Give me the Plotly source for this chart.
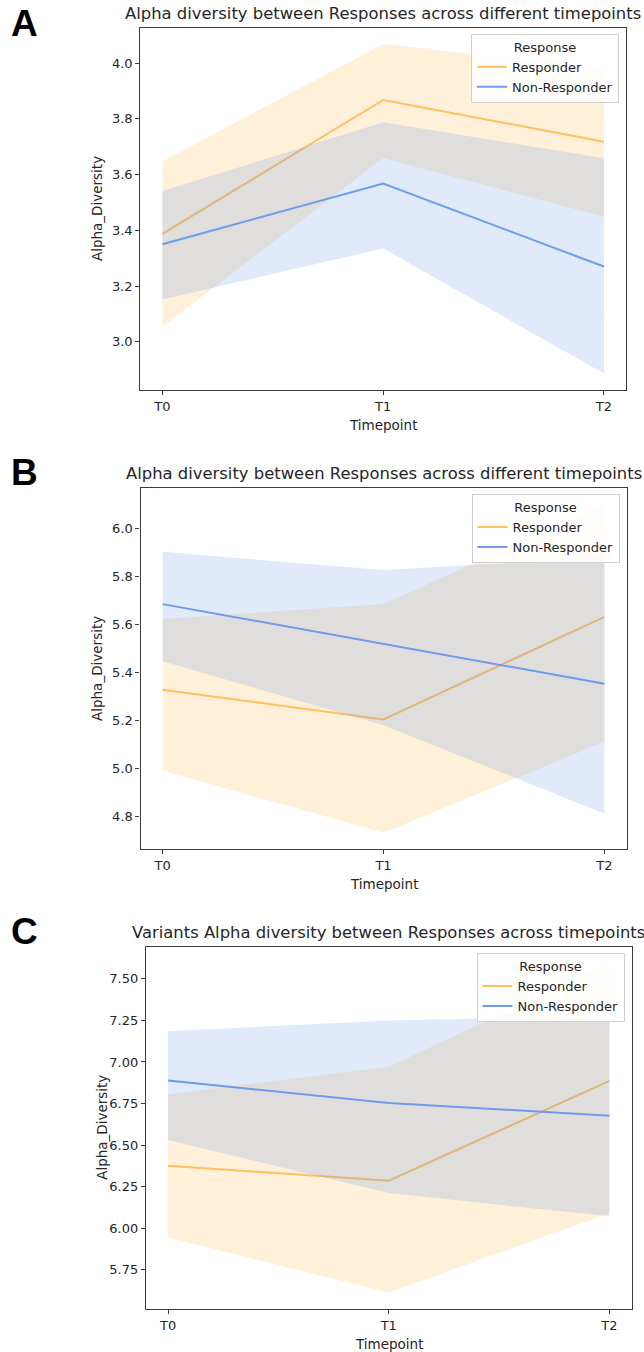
import plotly.graph_objects as go

W, H = 644, 1352

timepoints = ["T0", "T1", "T2"]
groups = ["Responder", "Non-Responder"]

# Panel A: alpha diversity (mean with 95% CI band)
a_resp_mean = [3.387, 3.868, 3.718]
a_resp_low = [3.054, 3.659, 3.449]
a_resp_high = [3.647, 4.069, 3.982]
a_nonresp_mean = [3.350, 3.568, 3.270]
a_nonresp_low = [3.152, 3.335, 2.886]
a_nonresp_high = [3.541, 3.788, 3.659]
a_yticks = [3.0, 3.2, 3.4, 3.6, 3.8, 4.0]

# Panel B
b_resp_mean = [5.328, 5.204, 5.632]
b_resp_low = [4.991, 4.731, 5.111]
b_resp_high = [5.623, 5.685, 6.102]
b_nonresp_mean = [5.685, 5.519, 5.353]
b_nonresp_low = [5.447, 5.180, 4.811]
b_nonresp_high = [5.903, 5.827, 5.878]
b_yticks = [4.8, 5.0, 5.2, 5.4, 5.6, 5.8, 6.0]

# Panel C: variants
c_resp_mean = [6.376, 6.286, 6.886]
c_resp_low = [5.945, 5.614, 6.090]
c_resp_high = [6.806, 6.972, 7.594]
c_nonresp_mean = [6.888, 6.754, 6.677]
c_nonresp_low = [6.531, 6.212, 6.072]
c_nonresp_high = [7.185, 7.249, 7.280]
c_yticks = [5.75, 6.00, 6.25, 6.50, 6.75, 7.00, 7.25, 7.50]

titles = [
    "Alpha diversity between Responses across different timepoints",
    "Alpha diversity between Responses across different timepoints",
    "Variants Alpha diversity between Responses across timepoints",
]
letters = ["A", "B", "C"]

LINE_COLORS = {"Responder": "#FFC060", "Non-Responder": "#6E9BEB"}
BAND_COLORS = {"Responder": "rgba(255,179,71,0.2)",
               "Non-Responder": "rgba(100,149,237,0.2)"}

FONT = "DejaVu Sans"
TXT = "#262626"

panels = [
    dict(resp=(a_resp_mean, a_resp_low, a_resp_high),
         nonresp=(a_nonresp_mean, a_nonresp_low, a_nonresp_high),
         yticks=a_yticks, fmt=".1f",
         box=(140.3, 626.0, 27.5, 390.0), letter_pos=(24, 24)),
    dict(resp=(b_resp_mean, b_resp_low, b_resp_high),
         nonresp=(b_nonresp_mean, b_nonresp_low, b_nonresp_high),
         yticks=b_yticks, fmt=".1f",
         box=(140.5, 626.5, 487.7, 849.3), letter_pos=(25, 472)),
    dict(resp=(c_resp_mean, c_resp_low, c_resp_high),
         nonresp=(c_nonresp_mean, c_nonresp_low, c_nonresp_high),
         yticks=c_yticks, fmt=".2f",
         box=(146.0, 631.5, 946.7, 1309.0), letter_pos=(25, 931)),
]


def px_x(v):
    return v / W


def px_y(v):
    return 1 - v / H


fig = go.Figure()
annotations = []
layout = {}

for i, p in enumerate(panels):
    n = i + 1
    xa = "x" if n == 1 else f"x{n}"
    ya = "y" if n == 1 else f"y{n}"
    leg = "legend" if n == 1 else f"legend{n}"

    all_vals = list(p["resp"][1]) + list(p["resp"][2]) + list(p["nonresp"][1]) + list(p["nonresp"][2])
    lo, hi = min(all_vals), max(all_vals)
    pad = (hi - lo) * 0.05

    for name, (mean, low, high) in zip(groups, [p["resp"], p["nonresp"]]):
        fig.add_trace(go.Scatter(
            x=timepoints + timepoints[::-1],
            y=list(high) + list(low)[::-1],
            fill="toself", fillcolor=BAND_COLORS[name],
            line=dict(width=0), mode="lines",
            hoverinfo="skip", showlegend=False,
            xaxis=xa, yaxis=ya,
        ))
        fig.add_trace(go.Scatter(
            x=timepoints, y=mean, mode="lines", name=name,
            line=dict(color=LINE_COLORS[name], width=2),
            xaxis=xa, yaxis=ya, legend=leg, showlegend=True,
        ))

    x0, x1, y0, y1 = p["box"]
    axis_common = dict(
        showline=True, mirror=True, linecolor="#3a3a3a", linewidth=1.2,
        ticks="outside", ticklen=4, tickwidth=1.1, tickcolor="#3a3a3a",
        showgrid=False, zeroline=False,
        tickfont=dict(family=FONT, size=13, color=TXT),
    )
    layout["xaxis" if n == 1 else f"xaxis{n}"] = dict(
        axis_common,
        domain=[px_x(x0), px_x(x1)],
        anchor=ya, type="category",
        categoryorder="array", categoryarray=timepoints,
        range=[-0.1, 2.1],
    )
    layout["yaxis" if n == 1 else f"yaxis{n}"] = dict(
        axis_common,
        domain=[px_y(y1), px_y(y0)],
        anchor=xa,
        range=[lo - pad, hi + pad],
        tickmode="array", tickvals=p["yticks"],
        ticktext=[format(v, p["fmt"]) for v in p["yticks"]],
    )
    layout[leg] = dict(
        x=px_x(x1 - 7), y=px_y(y0 + 6.5),
        xanchor="right", yanchor="top",
        xref="paper", yref="paper",
        bgcolor="rgba(255,255,255,0.85)",
        bordercolor="#d0d0d0", borderwidth=1,
        font=dict(family=FONT, size=13, color=TXT),
        title=dict(text="Response", side="top center",
                   font=dict(family=FONT, size=13, color=TXT)),
        tracegroupgap=0,
    )

    cx = (x0 + x1) / 2
    # panel title
    annotations.append(dict(
        text=titles[i], x=px_x(cx), y=px_y(y0 - 14),
        xref="paper", yref="paper", xanchor="center", yanchor="middle",
        showarrow=False, font=dict(family=FONT, size=16.4, color=TXT),
    ))
    # x axis title
    annotations.append(dict(
        text="Timepoint", x=px_x(cx), y=px_y(y1 + 35),
        xref="paper", yref="paper", xanchor="center", yanchor="middle",
        showarrow=False, font=dict(family=FONT, size=13.5, color=TXT),
    ))
    # y axis title
    annotations.append(dict(
        text="Alpha_Diversity", x=px_x(x0 - 44), y=px_y((y0 + y1) / 2),
        xref="paper", yref="paper", xanchor="center", yanchor="middle",
        textangle=-90, showarrow=False,
        font=dict(family=FONT, size=13.5, color=TXT),
    ))
    # panel letter
    lx, ly = p["letter_pos"]
    annotations.append(dict(
        text=f"<b>{letters[i]}</b>", x=px_x(lx), y=px_y(ly),
        xref="paper", yref="paper", xanchor="center", yanchor="middle",
        showarrow=False, font=dict(family="Liberation Sans", size=37, color="#000000"),
    ))

fig.update_layout(
    width=W, height=H,
    margin=dict(l=0, r=0, t=0, b=0),
    paper_bgcolor="white", plot_bgcolor="white",
    annotations=annotations,
    showlegend=True,
    **layout,
)

fig.write_html("out.html")
